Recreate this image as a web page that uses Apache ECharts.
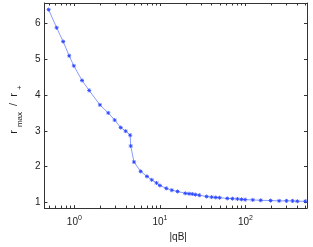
<!DOCTYPE html>
<html>
<head>
<meta charset="utf-8">
<script src="https://cdn.jsdelivr.net/npm/echarts@6/dist/echarts.min.js"></script>
<style>
html,body{margin:0;padding:0;background:#fff;}
#chart{width:313px;height:247px;}
</style>
</head>
<body>
<div id="chart"></div>
<script>
// Data
var qB = [0.5,0.62,0.74,0.87,0.985,1.23,1.49,1.99,2.49,2.96,3.48,3.98,4.49,4.56,4.98,5.96,7.06,8.03,9.14,10,11.9,13.8,16.1,19.8,21.9,23.9,26,28.9,35.2,40.3,45,49.9,61.4,70.5,80.7,90.2,99.3,122,151,197,248,302,356,405,502];
var ratio = [6.395,5.887,5.50,5.10,4.82,4.41,4.13,3.725,3.50,3.30,3.09,2.99,2.877,2.574,2.125,1.862,1.722,1.625,1.538,1.467,1.387,1.335,1.30,1.248,1.237,1.229,1.211,1.195,1.158,1.142,1.132,1.124,1.105,1.098,1.09,1.079,1.071,1.063,1.053,1.045,1.037,1.037,1.035,1.026,1.026];
var xMin = 0.447, xMax = 525;
var yMin = 0.834, yMax = 6.58;
var minorXTicks = [0.5,0.6,0.7,0.8,0.9,2,3,4,5,6,7,8,9,20,30,40,50,60,70,80,90,200,300,400,500];

var FONT = 'Liberation Sans, Arial, Helvetica, sans-serif';
var AX = '#333';

function isDecade(v){var l=Math.log10(v);return Math.abs(l-Math.round(l))<1e-6;}

var chart = echarts.init(document.getElementById('chart'), null, {renderer:'canvas'});
var points = qB.map(function(x,i){return [x, ratio[i]];});

var option = {
  animation:false,
  backgroundColor:'#fff',
  grid:{left:32,top:3,right:6,bottom:26,containLabel:false},
  xAxis:[{
    type:'log', min:xMin, max:xMax, logBase:10, position:'bottom',
    axisLine:{show:true,lineStyle:{color:AX,width:1}},
    axisTick:{show:true,inside:true,length:3,lineStyle:{color:AX}},
    splitLine:{show:false}, minorTick:{show:false},
    axisLabel:{
      show:true, margin:6, color:'#222', fontFamily:FONT,
      showMinLabel:false, showMaxLabel:false,
      formatter:function(v){ if(!isDecade(v)) return ''; return '{b|10}{s|'+Math.round(Math.log10(v))+'}'; },
      rich:{
        b:{fontSize:10,fontFamily:FONT,color:'#222',lineHeight:13,verticalAlign:'bottom'},
        s:{fontSize:7,fontFamily:FONT,color:'#222',lineHeight:7,verticalAlign:'top'}
      }
    },
    name:'|qB|', nameLocation:'middle', nameGap:19,
    nameTextStyle:{fontSize:10,fontFamily:FONT,color:'#222',padding:[0,0,0,5]}
  },{
    type:'log', min:xMin, max:xMax, logBase:10, position:'top',
    axisLine:{show:true,lineStyle:{color:AX,width:1}},
    axisTick:{show:true,inside:true,length:3,lineStyle:{color:AX}},
    axisLabel:{show:false}, splitLine:{show:false}
  }],
  yAxis:[{
    type:'value', min:yMin, max:yMax, position:'left',
    axisLine:{show:true,lineStyle:{color:AX,width:1}},
    axisTick:{show:true,inside:true,length:3,lineStyle:{color:AX}},
    splitLine:{show:false},
    axisLabel:{
      margin:4, fontSize:10, fontFamily:FONT, color:'#222',
      showMinLabel:false, showMaxLabel:false,
      formatter:function(v){ return Math.abs(v-Math.round(v))<1e-6 ? String(Math.round(v)) : ''; }
    },
    name:'{r|r}{sub|max}{r| /  r}{sub|+}', nameLocation:'middle', nameGap:15,
    nameTextStyle:{
      fontFamily:FONT, color:'#222', padding:[0,7,0,0],
      rich:{
        r:{fontSize:11,fontFamily:FONT,color:'#222',lineHeight:16,verticalAlign:'top',padding:[0,1,0,1]},
        sub:{fontSize:8,fontFamily:FONT,color:'#222',lineHeight:16,verticalAlign:'bottom',padding:[0,2,0,2]}
      }
    }
  },{
    type:'value', min:yMin, max:yMax, position:'right',
    axisLine:{show:true,lineStyle:{color:AX,width:1}},
    axisTick:{show:true,inside:true,length:3,lineStyle:{color:AX}},
    axisLabel:{show:false, showMinLabel:false, showMaxLabel:false}, splitLine:{show:false}
  }],
  series:[{
    type:'custom', xAxisIndex:0, yAxisIndex:0, silent:true, clip:false,
    data:minorXTicks.map(function(v){return [v];}),
    renderItem:function(params, api){
      var v = api.value(0);
      var b = api.coord([v, yMin]);
      var t = api.coord([v, yMax]);
      var st = {stroke:AX, lineWidth:1};
      return {type:'group', children:[
        {type:'line', shape:{x1:Math.round(b[0])+0.5,y1:b[1],x2:Math.round(b[0])+0.5,y2:b[1]-2.5}, style:st},
        {type:'line', shape:{x1:Math.round(t[0])+0.5,y1:t[1],x2:Math.round(t[0])+0.5,y2:t[1]+2.5}, style:st}
      ]};
    }
  },{
    type:'line', xAxisIndex:0, yAxisIndex:0, data:points,
    lineStyle:{color:'#6a82ff',width:0.8},
    symbol:'path://M5,0L5,10M0,5L10,5M1.5,1.5L8.5,8.5M8.5,1.5L1.5,8.5',
    symbolSize:4,
    itemStyle:{color:'#2a46ff',borderColor:'#2a46ff',borderWidth:0.9}
  }]
};
chart.setOption(option);
</script>
</body>
</html>
